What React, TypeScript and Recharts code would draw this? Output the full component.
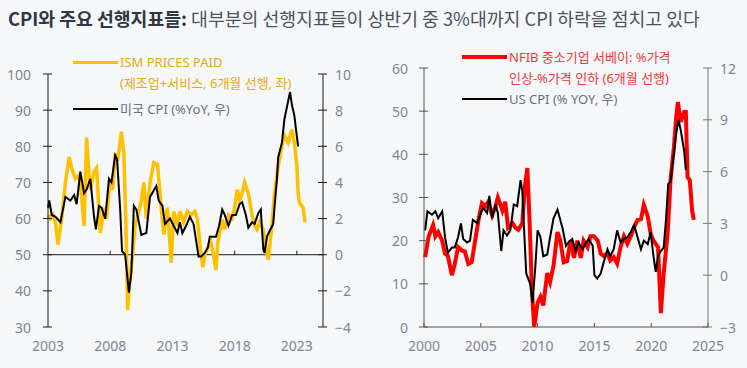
import { ComposedChart, Line, ReferenceLine, XAxis, YAxis } from "recharts";

// 왼쪽 차트: ISM prices paid (6개월 선행) vs 미국 CPI
const ismYears = [
  2003.0, 2003.2, 2003.4, 2003.6, 2003.8, 2004.1, 2004.4, 2004.7, 2004.9, 2005.2, 2005.5, 2005.7, 2005.9,
  2006.1, 2006.3, 2006.4, 2006.7, 2006.9, 2007.2, 2007.5, 2007.7, 2008.0, 2008.2, 2008.4, 2008.6, 2008.9,
  2009.1, 2009.3, 2009.4, 2009.6, 2009.8, 2010.0, 2010.3, 2010.5, 2010.7, 2010.9, 2011.2, 2011.5, 2011.8,
  2012.1, 2012.3, 2012.6, 2012.9, 2013.1, 2013.4, 2013.6, 2013.9, 2014.2, 2014.5, 2014.8, 2015.0, 2015.3,
  2015.45, 2015.6, 2015.85, 2016.05, 2016.25, 2016.5, 2016.65, 2017.0, 2017.2, 2017.5, 2017.8, 2018.0,
  2018.2, 2018.4, 2018.6, 2018.8, 2019.1, 2019.4, 2019.6, 2019.8, 2020.0, 2020.3, 2020.5, 2020.7, 2021.0,
  2021.2, 2021.5, 2021.8, 2022.0, 2022.3, 2022.6, 2022.8, 2023.0, 2023.1, 2023.2, 2023.5, 2023.65,
];
const ismValues = [
  61, 60, 61, 59, 52.8, 60, 70, 77, 74, 71, 72, 66, 58,
  82.4, 72, 68, 73, 74, 56, 63, 60, 71, 68, 78, 76, 84,
  78, 53, 34.7, 44, 50, 58, 62, 65, 70, 60, 70, 75.5, 75,
  63, 55.6, 63, 47.8, 62, 58, 62, 59, 62, 61, 62, 60, 50,
  46.5, 50, 52, 54, 51, 45.8, 53.5, 59.7, 57, 61, 60, 63,
  68, 65, 67, 70, 67, 61, 58, 57, 59, 57, 52, 48.6, 58,
  67, 74.5, 80, 83, 81, 84.6, 81, 74.5, 67, 64.5, 63, 59,
];

const cpiLeftYears = [
  2003.0, 2003.1, 2003.3, 2003.6, 2004.0, 2004.4, 2004.8, 2005.1, 2005.3, 2005.6, 2005.9, 2006.1, 2006.4,
  2006.7, 2006.85, 2007.1, 2007.3, 2007.6, 2007.9, 2008.1, 2008.4, 2008.55, 2008.8, 2008.95, 2009.2, 2009.4,
  2009.5, 2009.7, 2009.9, 2010.1, 2010.5, 2010.9, 2011.2, 2011.7, 2011.9, 2012.2, 2012.4, 2012.8, 2013.1,
  2013.4, 2013.6, 2013.8, 2014.1, 2014.4, 2014.7, 2014.9, 2015.1, 2015.3, 2015.6, 2015.85, 2016.0, 2016.25,
  2016.5, 2016.75, 2017.0, 2017.2, 2017.5, 2017.8, 2018.1, 2018.4, 2018.6, 2018.9, 2019.1, 2019.4, 2019.6,
  2019.9, 2020.1, 2020.3, 2020.4, 2020.6, 2020.8, 2021.1, 2021.2, 2021.4, 2021.5, 2021.8, 2022.0, 2022.3,
  2022.45, 2022.6, 2022.8, 2022.9, 2023.1,
];
const cpiLeftValues = [
  2.6, 3.0, 2.2, 2.1, 1.8, 3.2, 3.0, 3.3, 2.8, 4.6, 3.4, 3.6, 4.2,
  2.1, 1.4, 2.7, 2.6, 2.0, 4.2, 4.0, 5.5, 5.3, 2.5, 0.2, 0.0, -1.4,
  -2.1, -1.0, 2.7, 2.5, 1.1, 1.2, 3.2, 3.8, 3.0, 2.7, 1.7, 2.0, 1.6,
  1.2, 1.8, 1.2, 1.6, 2.1, 1.7, 0.8, -0.1, -0.1, 0.1, 0.4, 1.0, 1.0,
  1.0, 1.6, 2.5, 2.2, 1.6, 2.2, 2.2, 2.8, 2.9, 2.2, 1.5, 1.8, 1.7,
  2.3, 2.5, 0.3, 0.1, 1.0, 1.3, 1.7, 2.6, 4.2, 5.4, 6.2, 7.5, 8.5,
  9.0, 8.3, 7.7, 7.1, 6.0,
];

// 오른쪽 차트: NFIB 가격 인상-인하 (6개월 선행) vs US CPI
const nfibYears = [
  2000.1, 2000.4, 2000.8, 2001.0, 2001.25, 2001.6, 2001.85, 2002.1, 2002.45, 2002.7, 2003.0, 2003.35, 2003.6,
  2003.9, 2004.2, 2004.5, 2004.8, 2005.1, 2005.4, 2005.65, 2006.0, 2006.3, 2006.5, 2006.9, 2007.15, 2007.4,
  2007.8, 2008.05, 2008.3, 2008.65, 2008.9, 2009.1, 2009.3, 2009.5, 2009.7, 2010.0, 2010.25, 2010.5, 2010.85,
  2011.1, 2011.4, 2011.75, 2012.0, 2012.3, 2012.6, 2012.9, 2013.2, 2013.5, 2013.8, 2014.05, 2014.4, 2014.65,
  2014.95, 2015.3, 2015.55, 2015.8, 2016.15, 2016.4, 2016.7, 2017.0, 2017.3, 2017.6, 2017.9, 2018.2, 2018.5,
  2018.8, 2019.1, 2019.35, 2019.7, 2019.95, 2020.2, 2020.6, 2020.85, 2021.1, 2021.45, 2021.7, 2022.0, 2022.2,
  2022.35, 2022.6, 2022.9, 2023.05, 2023.2, 2023.4, 2023.6, 2023.75,
];
const nfibValues = [
  16.2, 20.9, 23.6, 21, 22, 20, 17, 16.5, 12, 14.5, 18.5, 17.7, 17.5,
  14.6, 15, 20, 24.8, 28.7, 28, 29, 25.9, 28, 30, 27, 29, 23,
  24, 23, 22.5, 24, 33, 36.8, 24, 8.6, 0, 5.6, 7, 5, 12.5,
  10.4, 14.2, 22, 20, 15, 15.3, 20, 16, 20, 16, 20, 18.5, 21,
  21, 20, 17, 16.5, 17, 15.4, 16.2, 14.7, 18.5, 21, 19.3, 21, 23.2,
  24.8, 25, 28.3, 25.6, 21.6, 20, 18.5, 3.2, 12.5, 21.8, 34, 41.7, 48.6,
  52.1, 47.5, 49.8, 49.8, 34.7, 34, 27, 24.8,
];

const cpiRightYears = [
  2000.1, 2000.3, 2000.7, 2001.0, 2001.25, 2001.6, 2001.85, 2002.1, 2002.45, 2002.7, 2003.0, 2003.25, 2003.45,
  2003.8, 2004.05, 2004.3, 2004.7, 2004.95, 2005.2, 2005.55, 2005.75, 2006.0, 2006.3, 2006.5, 2006.8, 2007.0,
  2007.3, 2007.6, 2007.9, 2008.2, 2008.5, 2008.65, 2008.85, 2009.0, 2009.35, 2009.55, 2009.8, 2010.0, 2010.25,
  2010.5, 2010.85, 2011.1, 2011.4, 2011.75, 2012.2, 2012.5, 2012.7, 2013.05, 2013.35, 2013.6, 2013.95, 2014.2,
  2014.5, 2014.85, 2015.0, 2015.25, 2015.55, 2015.8, 2016.15, 2016.4, 2016.7, 2017.0, 2017.3, 2017.6, 2017.9,
  2018.2, 2018.5, 2018.8, 2019.1, 2019.35, 2019.7, 2019.95, 2020.2, 2020.4, 2020.6, 2020.85, 2021.1, 2021.3,
  2021.5, 2021.7, 2022.0, 2022.2, 2022.4, 2022.6, 2022.9, 2023.05,
];
const cpiRightValues = [
  2.6, 3.7, 3.5, 3.7, 3.3, 3.7, 2.2, 1.3, 1.6, 1.6, 2.2, 3.0, 2.1,
  1.9, 2.0, 3.2, 3.0, 3.5, 3.9, 3.6, 4.6, 3.3, 4.1, 3.6, 1.4, 2.6,
  2.3, 2.6, 4.1, 4.0, 5.5, 4.9, 2.1, 0.1, -0.5, -1.6, 0.5, 2.6, 2.2,
  1.1, 1.2, 2.2, 3.3, 3.8, 2.7, 1.7, 1.9, 2.1, 1.4, 1.9, 1.5, 1.8,
  2.1, 1.7, 0.0, -0.2, 0.1, 0.7, 1.5, 1.1, 1.5, 2.6, 1.9, 2.1, 2.2,
  2.5, 2.9, 2.2, 1.5, 2.0, 1.8, 2.5, 1.1, 0.2, 1.1, 1.4, 1.6, 3.2,
  5.3, 5.4, 7.1, 8.2, 9.0, 8.4, 7.2, 6.1,
];

const leftXTicks = [2003, 2008, 2013, 2018, 2023];
const ismTicks = [30, 40, 50, 60, 70, 80, 90, 100];
const cpiLeftTicks = [-4, -2, 0, 2, 4, 6, 8, 10];
const rightXTicks = [2000, 2005, 2010, 2015, 2020, 2025];
const nfibTicks = [0, 10, 20, 30, 40, 50, 60];
const cpiRightTicks = [-3, 0, 3, 6, 9, 12];

const toPoints = (xs: number[], ys: number[]) => xs.map((x, i) => ({ x, y: ys[i] }));

const ismData = toPoints(ismYears, ismValues);
const cpiLeftData = toPoints(cpiLeftYears, cpiLeftValues);
const nfibData = toPoints(nfibYears, nfibValues);
const cpiRightData = toPoints(cpiRightYears, cpiRightValues);

const FONT = "'Noto Sans', 'Noto Sans CJK KR', sans-serif";
const KR = "'Noto Sans CJK KR', sans-serif";
const LABEL = "#80858f";
const YELLOW = "#FFC000";
const RED = "#FF0000";

const fmt = (v: number) => (v < 0 ? `\u2212${Math.abs(v)}` : `${v}`);

const SideTick = ({ x, y, payload, side, stroke, gap }: any) => (
  <g>
    <line x1={x - 5} x2={x + 4} y1={y} y2={y} stroke={stroke} strokeWidth={1} />
    <text
      x={side === "left" ? x - gap : x + gap}
      y={y}
      textAnchor={side === "left" ? "end" : "start"}
      dominantBaseline="central"
      fill={LABEL}
      fontSize={14}
      fontFamily={FONT}
    >
      {fmt(payload.value)}
    </text>
  </g>
);

const BottomTick = ({ x, y, payload, mark, stroke }: any) => (
  <g>
    {mark && <line x1={x} x2={x} y1={y} y2={y - 4} stroke={stroke} strokeWidth={1} />}
    <text x={x} y={y + 18} textAnchor="middle" dominantBaseline="central" fill={LABEL} fontSize={14} fontFamily={FONT}>
      {payload.value}
    </text>
  </g>
);

const LegendRow = ({ left, top, color, thick, lines, textColor }: any) => (
  <div style={{ position: "absolute", left, top, fontFamily: FONT, fontSize: 13, color: textColor }}>
    <div style={{ position: "absolute", left: 0, top: -thick / 2, width: 45, height: thick, background: color }} />
    {lines.map((t: string, i: number) => (
      <div key={t} style={{ position: "absolute", left: 47, top: i * 21 - 10, lineHeight: "20px", whiteSpace: "nowrap" }}>
        {t}
      </div>
    ))}
  </div>
);

export default function App() {
  return (
    <div style={{ position: "absolute", left: 0, top: 0, width: 747, height: 368, background: "#F6F7F9", overflow: "hidden" }}>
      <div
        style={{
          position: "absolute",
          left: 8,
          top: 5,
          fontFamily: KR,
          fontSize: 18.3,
          lineHeight: "26px",
          whiteSpace: "nowrap",
          color: "#4b5262",
        }}
      >
        <span style={{ fontWeight: 700, color: "#2f3646" }}>CPI와 주요 선행지표들:</span> 대부분의 선행지표들이 상반기 중 3%대까지 CPI 하락을 점치고 있다
      </div>

      <div style={{ position: "absolute", left: 0, top: 0 }}>
        <ComposedChart width={370} height={368} margin={{ top: 74, right: 0, bottom: 0, left: 0 }}>
          <XAxis
            dataKey="x"
            type="number"
            domain={[2003, 2025.1]}
            ticks={leftXTicks}
            axisLine={false}
            tickLine={false}
            tickSize={0}
            tickMargin={0}
            height={41}
            tick={(p: any) => <BottomTick {...p} mark={false} />}
          />
          <YAxis
            yAxisId="left"
            type="number"
            domain={[30, 100]}
            ticks={ismTicks}
            width={48}
            stroke="#1a1a1a"
            tickLine={false}
            tickSize={0}
            tickMargin={0}
            tick={(p: any) => <SideTick {...p} side="left" stroke="#1a1a1a" gap={17} />}
          />
          <YAxis
            yAxisId="right"
            orientation="right"
            type="number"
            domain={[-4, 10]}
            ticks={cpiLeftTicks}
            width={47}
            stroke="#1a1a1a"
            tickLine={false}
            tickSize={0}
            tickMargin={0}
            tick={(p: any) => <SideTick {...p} side="right" stroke="#1a1a1a" gap={12} />}
          />
          <ReferenceLine yAxisId="left" y={50} stroke="#1a1a1a" strokeWidth={1} />
          {leftXTicks.slice(1).map((t) => (
            <ReferenceLine
              key={t}
              yAxisId="left"
              segment={[
                { x: t, y: 50 },
                { x: t, y: 51.1 },
              ]}
              stroke="#1a1a1a"
            />
          ))}
          <Line
            yAxisId="left"
            data={ismData}
            dataKey="y"
            type="linear"
            stroke={YELLOW}
            strokeWidth={3.5}
            dot={false}
            isAnimationActive={false}
          />
          <Line
            yAxisId="right"
            data={cpiLeftData}
            dataKey="y"
            type="linear"
            stroke="#000000"
            strokeWidth={2}
            dot={false}
            isAnimationActive={false}
          />
        </ComposedChart>
      </div>

      <div style={{ position: "absolute", left: 370, top: 0 }}>
        <ComposedChart width={377} height={368} margin={{ top: 68, right: 0, bottom: 0, left: 0 }}>
          <XAxis
            dataKey="x"
            type="number"
            domain={[2000, 2025]}
            ticks={rightXTicks}
            stroke="#555"
            tickLine={false}
            tickSize={0}
            tickMargin={0}
            height={41}
            tick={(p: any) => <BottomTick {...p} mark stroke="#555" />}
          />
          <YAxis
            yAxisId="left"
            type="number"
            domain={[0, 60]}
            ticks={nfibTicks}
            width={54}
            stroke="#555"
            tickLine={false}
            tickSize={0}
            tickMargin={0}
            tick={(p: any) => <SideTick {...p} side="left" stroke="#555" gap={16} />}
          />
          <YAxis
            yAxisId="right"
            orientation="right"
            type="number"
            domain={[-3, 12]}
            ticks={cpiRightTicks}
            width={39}
            stroke="#777"
            tickLine={false}
            tickSize={0}
            tickMargin={0}
            tick={(p: any) => <SideTick {...p} side="right" stroke="#777" gap={12} />}
          />
          <Line
            yAxisId="left"
            data={nfibData}
            dataKey="y"
            type="linear"
            stroke={RED}
            strokeWidth={4}
            dot={false}
            isAnimationActive={false}
          />
          <Line
            yAxisId="right"
            data={cpiRightData}
            dataKey="y"
            type="linear"
            stroke="#000000"
            strokeWidth={2}
            dot={false}
            isAnimationActive={false}
          />
        </ComposedChart>
      </div>

      <LegendRow left={73} top={62} color={YELLOW} thick={3} textColor="#E8AA10" lines={["ISM PRICES PAID", "(제조업+서비스, 6개월 선행, 좌)"]} />
      <LegendRow left={73} top={109} color="#000" thick={2.5} textColor="#6b7080" lines={["미국 CPI (%YoY, 우)"]} />
      <LegendRow left={462} top={57} color={RED} thick={4} textColor="#F03A3A" lines={["NFIB 중소기업 서베이: %가격", "인상-%가격 인하 (6개월 선행)"]} />
      <LegendRow left={462} top={99} color="#000" thick={2.5} textColor="#6b7080" lines={["US CPI (% YOY, 우)"]} />
    </div>
  );
}
